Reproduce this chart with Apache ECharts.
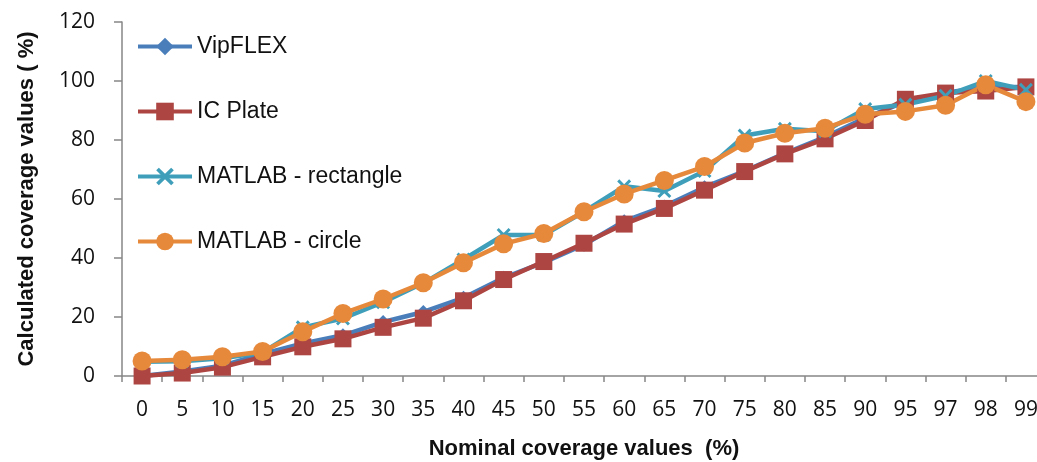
<!DOCTYPE html>
<html>
<head>
<meta charset="utf-8">
<script src="https://cdn.jsdelivr.net/npm/echarts@6/dist/echarts.min.js"></script>
<style>
  html, body { margin: 0; padding: 0; background: #fff; }
  #chart { width: 1037px; height: 462px; }
</style>
</head>
<body>
<div id="chart"></div>
<script>
// Nominal coverage (%) on the x axis
const categories = ['0', '5', '10', '15', '20', '25', '30', '35', '40', '45', '50', '55',
  '60', '65', '70', '75', '80', '85', '90', '95', '97', '98', '99'];

// Calculated coverage (%) per method
const vipflex      = [0, 1.5, 3.5, 7.5, 11, 13.8, 18.3, 21.7, 26.5, 33.3, 38.5, 44.5,
  52.5, 57.5, 64, 69.5, 75.5, 81, 87.5, 93, 96, 98, 98];
const icPlate      = [0, 1, 3, 6.5, 9.9, 12.6, 16.5, 19.6, 25.5, 32.7, 38.8, 45,
  51.5, 56.8, 63, 69.3, 75.3, 80.4, 86.6, 93.8, 95.9, 96.6, 98];
const matlabRect   = [4.8, 5, 6, 8, 16.5, 19.5, 25, 31.5, 39.5, 47.8, 47.8, 55.7,
  64.3, 62.7, 69.5, 81.5, 83.8, 83, 90.5, 92, 95, 100, 97];
const matlabCircle = [5.1, 5.5, 6.5, 8.3, 15, 21.2, 26.1, 31.6, 38.4, 44.8, 48.3, 55.7,
  61.7, 66.3, 71, 79, 82.3, 84, 88.7, 89.7, 91.8, 98.7, 93];

const seriesNames = ['VipFLEX', 'IC Plate', 'MATLAB - rectangle', 'MATLAB - circle'];

// y axis ticks
const yMin = 0, yMax = 120, yStep = 20;

const axisGrey = '#868686';
const tickFont = '"Open Sans", "DejaVu Sans", sans-serif';
const textFont = '"Liberation Sans", Arial, sans-serif';

// thick "x" marker
const crossPath = 'path://M0,3 L3,0 L10,7 L17,0 L20,3 L13,10 L20,17 L17,20 L10,13 L3,20 L0,17 L7,10 Z';

function lineSeries(name, data, color, symbol, size) {
  return {
    name: name,
    type: 'line',
    data: data,
    symbol: symbol,
    symbolSize: size,
    showAllSymbol: true,
    lineStyle: { color: color, width: 4.5 },
    itemStyle: { color: color, borderWidth: 0 },
    emphasis: { disabled: true },
    animation: false
  };
}

const chart = echarts.init(document.getElementById('chart'), null, { renderer: 'canvas' });

chart.setOption({
  backgroundColor: '#ffffff',
  animation: false,
  grid: { left: 122, right: -9, top: 22, bottom: 86, containLabel: false, outerBoundsMode: 'none' },
  legend: {
    orient: 'vertical',
    left: 136,
    top: 35,
    padding: 0,
    itemWidth: 54,
    itemHeight: 22,
    itemGap: 42,
    itemTextGap: 4,
    data: seriesNames,
    lineStyle: { width: 4 },
    textStyle: { fontFamily: textFont, fontSize: 23, color: '#111' }
  },
  xAxis: {
    type: 'category',
    data: categories,
    boundaryGap: true,
    name: 'Nominal coverage values  (%)',
    nameLocation: 'middle',
    nameGap: 62,
    nameTextStyle: { fontFamily: textFont, fontSize: 22, fontWeight: 'bold', color: '#111' },
    axisLine: { lineStyle: { color: axisGrey, width: 1.5 } },
    axisTick: { show: true, interval: 0, length: 6, lineStyle: { color: axisGrey, width: 1.5 } },
    axisLabel: { interval: 0, margin: 24, fontFamily: tickFont, fontSize: 21, color: '#111' },
    splitLine: { show: false }
  },
  yAxis: {
    type: 'value',
    min: yMin,
    max: yMax,
    interval: yStep,
    name: 'Calculated coverage values ( %)',
    nameLocation: 'middle',
    nameGap: 84,
    nameTextStyle: { fontFamily: textFont, fontSize: 22, fontWeight: 'bold', color: '#111' },
    axisLine: { show: true, lineStyle: { color: axisGrey, width: 1.5 } },
    axisTick: { show: true, length: 8, lineStyle: { color: axisGrey, width: 1.5 } },
    axisLabel: { margin: 27, fontFamily: tickFont, fontSize: 21, color: '#111' },
    splitLine: { show: false }
  },
  series: [
    lineSeries(seriesNames[0], vipflex, '#4a7ebb', 'diamond', 14),
    lineSeries(seriesNames[1], icPlate, '#ad4643', 'rect', 17),
    lineSeries(seriesNames[2], matlabRect, '#3f9fba', crossPath, 14),
    lineSeries(seriesNames[3], matlabCircle, '#e6893b', 'circle', 19)
  ]
});
</script>
</body>
</html>
